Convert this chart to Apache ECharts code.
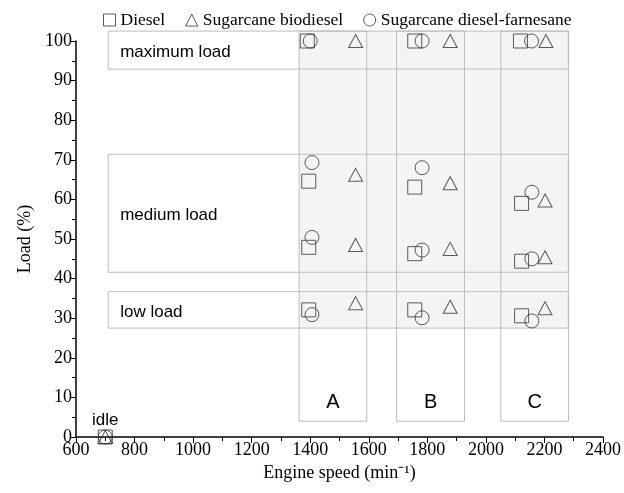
<!DOCTYPE html>
<html>
<head>
<meta charset="utf-8">
<script src="https://cdn.jsdelivr.net/npm/echarts@6/dist/echarts.min.js"></script>
<style>html,body{margin:0;padding:0;background:#fff}#c{width:624px;height:493px}</style>
</head>
<body>
<div id="c"></div>
<script>
// ---- data ----
const seriesNames = ['Diesel', 'Sugarcane biodiesel', 'Sugarcane diesel-farnesane'];
const dieselSpeed = [700, 1390, 1395, 1395, 1395, 1757, 1757, 1757, 1757, 2118, 2122, 2122, 2122];
const dieselLoad  = [0, 100, 64.6, 47.9, 32.1, 100, 63.1, 46.3, 32.1, 100, 59.0, 44.4, 30.6];
const bioSpeed    = [700, 1555, 1555, 1555, 1555, 1878, 1878, 1878, 1878, 2205, 2202, 2202, 2202];
const bioLoad     = [0, 100, 66.2, 48.5, 33.8, 100, 64.1, 47.5, 32.9, 100, 59.7, 45.4, 32.5];
const farnSpeed   = [700, 1400, 1406, 1406, 1406, 1782, 1782, 1782, 1782, 2156, 2157, 2157, 2157];
const farnLoad    = [0, 100, 69.3, 50.4, 30.9, 100, 68.0, 47.2, 30.1, 100, 61.8, 45.0, 29.3];
const bandNames   = ['maximum load', 'medium load', 'low load'];
const bandLoad    = [[92.9, 102.5], [41.6, 71.4], [27.5, 36.7]];
const bandSpeed   = [710, 2282];
const zoneNames   = ['A', 'B', 'C'];
const zoneSpeed   = [[1362, 1593], [1695, 1927], [2051, 2282]];
const zoneLoad    = [4, 102.5];
const idlePoint   = [700, 0];
const idleName    = 'idle';
const xTicks = {min: 600, max: 2400, interval: 200};
const yTicks = {min: 0, max: 100, interval: 10};

const pts = (xs, ys) => xs.map((x, i) => [x, ys[i]]);
const serif = 'Liberation Serif';
const sans = 'Liberation Sans';
const stroke = '#333';
const boxLine = '#bdbdbd';

// boxes: [x0, y0, x1, y1, kind] kind 0 = band (label left), 1 = zone (label bottom)
const boxData = bandNames.map((n, i) => ({name: n, value: [bandSpeed[0], bandLoad[i][0], bandSpeed[1], bandLoad[i][1], 0]}))
  .concat(zoneNames.map((n, i) => ({name: n, value: [zoneSpeed[i][0], zoneLoad[0], zoneSpeed[i][1], zoneLoad[1], 1]})));
const fillData = [{name: 'fill', value: [zoneSpeed[0][0], bandLoad[2][0], zoneSpeed[2][1], zoneLoad[1], 2]}];

function rectOf(api) {
  const p0 = api.coord([api.value(0), api.value(1)]);
  const p1 = api.coord([api.value(2), api.value(3)]);
  return {x: Math.min(p0[0], p1[0]), y: Math.min(p0[1], p1[1]),
          width: Math.abs(p1[0] - p0[0]), height: Math.abs(p1[1] - p0[1])};
}

const chart = echarts.init(document.getElementById('c'), null, {renderer: 'canvas'});
const markerStyle = {color: 'rgba(0,0,0,0)', borderColor: stroke, borderWidth: 1};

const option = {
  animation: false,
  backgroundColor: '#fff',
  grid: {left: 76, right: 20, top: 41, bottom: 56, containLabel: false},
  legend: {
    left: 98, top: 6,
    itemWidth: 12, itemHeight: 12, itemGap: 20,
    textStyle: {fontFamily: serif, fontSize: 17.5, color: '#000'},
    data: [
      {name: seriesNames[0], icon: 'rect', itemStyle: markerStyle},
      {name: seriesNames[1], icon: 'triangle', itemStyle: markerStyle},
      {name: seriesNames[2], icon: 'circle', itemStyle: markerStyle}
    ]
  },
  xAxis: {
    type: 'value', min: xTicks.min, max: xTicks.max, interval: xTicks.interval,
    name: 'Engine speed (min\u207B\u00B9)', nameLocation: 'middle', nameGap: 25,
    nameTextStyle: {fontFamily: serif, fontSize: 18, color: '#000'},
    axisLine: {show: true, lineStyle: {color: '#000', width: 1.5}},
    axisTick: {show: true, length: 6, lineStyle: {color: '#000'}},
    minorTick: {show: true, splitNumber: 2, length: 4, lineStyle: {color: '#000'}},
    axisLabel: {fontFamily: serif, fontSize: 18, color: '#000', margin: 4, formatter: v => String(v)},
    splitLine: {show: false}
  },
  yAxis: {
    type: 'value', min: yTicks.min, max: yTicks.max, interval: yTicks.interval,
    name: 'Load (%)', nameLocation: 'middle', nameGap: 41,
    nameTextStyle: {fontFamily: serif, fontSize: 18, color: '#000'},
    axisLine: {show: true, lineStyle: {color: '#000', width: 1.5}},
    axisTick: {show: true, length: 6, lineStyle: {color: '#000'}},
    minorTick: {show: true, splitNumber: 2, length: 4, lineStyle: {color: '#000'}},
    axisLabel: {fontFamily: serif, fontSize: 18, color: '#000', margin: 4},
    splitLine: {show: false}
  },
  series: [
    {
      name: 'fill', type: 'custom', z: 1, silent: true, clip: false,
      encode: {x: [0, 2], y: [1, 3]},
      data: fillData,
      renderItem: (params, api) => ({
        type: 'rect', shape: rectOf(api), style: {fill: '#f4f4f4', stroke: null}
      })
    },
    {
      name: 'boxes', type: 'custom', z: 2, silent: true, clip: false,
      encode: {x: [0, 2], y: [1, 3]},
      data: boxData,
      renderItem: (params, api) => {
        const r = rectOf(api);
        const kind = api.value(4);
        const name = boxData[params.dataIndex].name;
        const text = kind === 0
          ? {type: 'text', x: r.x + 12, y: r.y + r.height / 2 + 2,
             style: {text: name, fill: '#000', font: '17px "' + sans + '"', textAlign: 'left', textVerticalAlign: 'middle'}}
          : {type: 'text', x: r.x + r.width / 2, y: r.y + r.height - 19,
             style: {text: name, fill: '#000', font: '20px "' + sans + '"', textAlign: 'center', textVerticalAlign: 'middle'}};
        return {type: 'group', children: [
          {type: 'rect', shape: r, style: {fill: 'none', stroke: boxLine, lineWidth: 1}},
          text
        ]};
      }
    },
    {
      name: 'idleLabel', type: 'custom', z: 4, silent: true, clip: false,
      data: [idlePoint],
      renderItem: (params, api) => {
        const p = api.coord([api.value(0), api.value(1)]);
        return {type: 'text', x: p[0], y: p[1] - 17,
          style: {text: idleName, fill: '#000', font: '17px "' + sans + '"', textAlign: 'center', textVerticalAlign: 'middle'}};
      }
    },
    {
      name: seriesNames[0], type: 'scatter', z: 5, symbol: 'rect', symbolSize: 14, clip: false,
      itemStyle: markerStyle, data: pts(dieselSpeed, dieselLoad)
    },
    {
      name: seriesNames[1], type: 'scatter', z: 5, symbol: 'triangle', symbolSize: [14, 13], clip: false,
      itemStyle: markerStyle, data: pts(bioSpeed, bioLoad)
    },
    {
      name: seriesNames[2], type: 'scatter', z: 5, symbol: 'circle', symbolSize: 14, clip: false,
      itemStyle: markerStyle, data: pts(farnSpeed, farnLoad)
    }
  ]
};
chart.setOption(option);
</script>
</body>
</html>
